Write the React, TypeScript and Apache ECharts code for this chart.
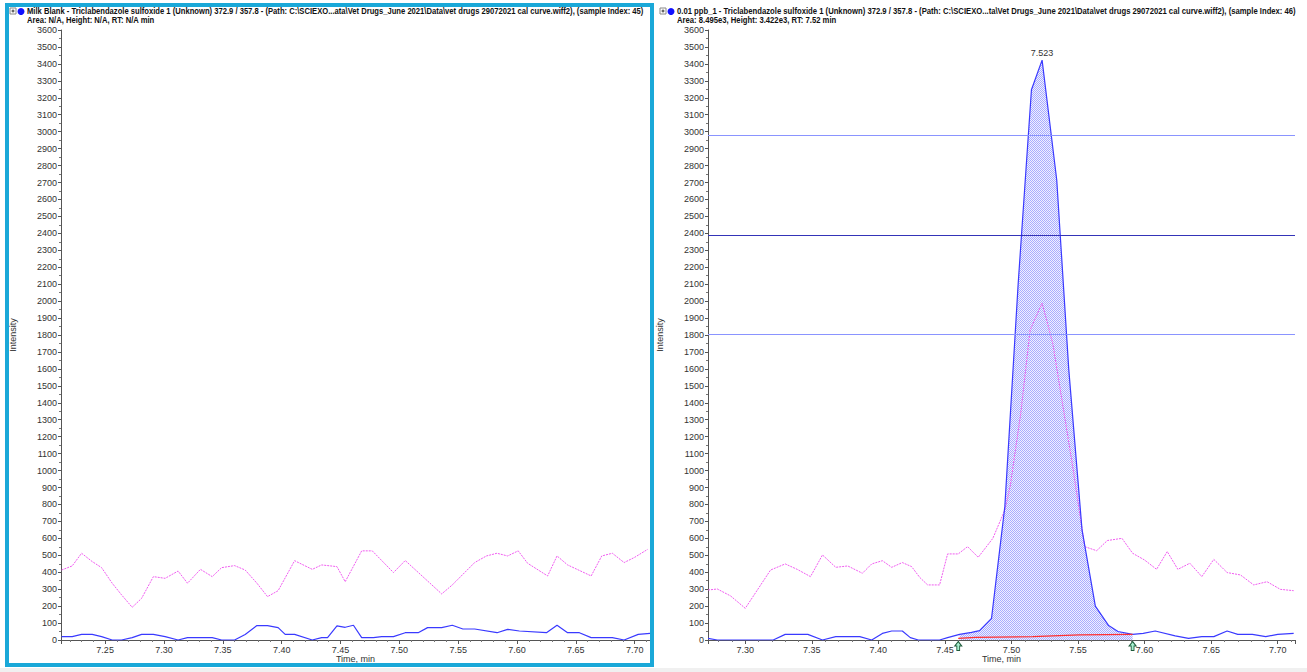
import React, { useEffect, useRef } from 'react';
import * as echarts from 'echarts';

// ---------- data (time in min, intensity in cps) ----------
const yMax = 3600;
const yStep = 100;
const leftRange = [7.2125, 7.713];
const rightRange = [7.272, 7.713];

const leftMagenta: [number, number][] = [
  [7.213, 413], [7.222, 437], [7.230, 512], [7.239, 463], [7.247, 427], [7.256, 335],
  [7.264, 266], [7.273, 193], [7.281, 246], [7.291, 374], [7.301, 364], [7.312, 407],
  [7.320, 335], [7.331, 417], [7.341, 374], [7.349, 427], [7.360, 439], [7.369, 413],
  [7.379, 335], [7.388, 256], [7.397, 291], [7.411, 468], [7.426, 417], [7.434, 443],
  [7.447, 433], [7.454, 344], [7.468, 526], [7.477, 526], [7.495, 398], [7.505, 469],
  [7.536, 272], [7.545, 325], [7.564, 457], [7.574, 496], [7.583, 512], [7.592, 496],
  [7.601, 526], [7.609, 453], [7.626, 378], [7.634, 496], [7.643, 443], [7.663, 378],
  [7.672, 496], [7.681, 512], [7.691, 457], [7.700, 488], [7.711, 535],
];

const leftBlue: [number, number][] = [
  [7.213, 20], [7.222, 20], [7.230, 33], [7.239, 33], [7.247, 20], [7.256, 0],
  [7.264, 0], [7.273, 14], [7.281, 33], [7.291, 33], [7.301, 20], [7.312, 0],
  [7.320, 14], [7.341, 14], [7.349, 0], [7.360, 0], [7.369, 33], [7.379, 85],
  [7.388, 85], [7.397, 73], [7.403, 33], [7.411, 33], [7.426, 0], [7.434, 14],
  [7.439, 14], [7.447, 83], [7.454, 75], [7.461, 87], [7.468, 14], [7.478, 14],
  [7.485, 20], [7.495, 20], [7.505, 43], [7.516, 43], [7.524, 73], [7.536, 73],
  [7.545, 87], [7.554, 65], [7.564, 65], [7.583, 43], [7.592, 63], [7.602, 53],
  [7.625, 43], [7.634, 87], [7.643, 43], [7.653, 43], [7.663, 14], [7.681, 14],
  [7.691, 0], [7.703, 33], [7.713, 39],
];

const rightMagenta: [number, number][] = [
  [7.272, 295], [7.279, 301], [7.289, 260], [7.300, 187], [7.319, 413], [7.330, 449],
  [7.339, 417], [7.349, 374], [7.358, 502], [7.368, 429], [7.377, 437], [7.388, 394],
  [7.395, 449], [7.403, 468], [7.410, 429], [7.418, 457], [7.425, 433], [7.431, 370],
  [7.437, 325], [7.446, 325], [7.452, 508], [7.460, 508], [7.467, 551], [7.475, 488],
  [7.486, 600], [7.495, 767], [7.499, 905], [7.507, 1340], [7.514, 1830], [7.523, 1988],
  [7.531, 1751], [7.546, 1023], [7.555, 551], [7.564, 527], [7.572, 587], [7.583, 600],
  [7.591, 512], [7.600, 472], [7.609, 417], [7.617, 522], [7.625, 417], [7.634, 453],
  [7.643, 374], [7.652, 476], [7.662, 398], [7.672, 384], [7.682, 325], [7.692, 344],
  [7.702, 299], [7.712, 291],
];

const rightBlue: [number, number][] = [
  [7.272, 10], [7.279, 0], [7.321, 0], [7.330, 33], [7.347, 33], [7.358, 0],
  [7.368, 20], [7.386, 20], [7.395, 0], [7.403, 39], [7.410, 53], [7.418, 53],
  [7.424, 14], [7.430, 0], [7.446, 0], [7.452, 14], [7.461, 33], [7.470, 45],
  [7.476, 55], [7.485, 128], [7.495, 787], [7.505, 2100], [7.515, 3247], [7.523, 3422],
  [7.534, 2715], [7.543, 1600], [7.553, 650], [7.563, 200], [7.573, 85], [7.580, 50],
  [7.591, 33], [7.599, 39], [7.608, 53], [7.623, 24], [7.633, 10], [7.643, 20],
  [7.652, 20], [7.662, 53], [7.670, 33], [7.681, 33], [7.691, 20], [7.700, 33],
  [7.712, 39],
];

const baseline: [number, number][] = [
  [7.460, 10], [7.473, 16], [7.516, 20], [7.551, 30], [7.591, 33],
];

const peakStart = 7.460;
const peakEnd = 7.591;
const peakRT = 7.523;
const peakHeight = 3422;
const thresholdLines = [2980, 2390, 1806];

const leftTitle1 = 'Milk Blank - Triclabendazole sulfoxide 1 (Unknown) 372.9 / 357.8 - (Path: C:\\SCIEXO...ata\\Vet Drugs_June 2021\\Data\\vet drugs 29072021 cal curve.wiff2), (sample Index: 45)';
const leftTitle2 = 'Area: N/A, Height: N/A, RT: N/A min';
const rightTitle1 = '0.01 ppb_1 - Triclabendazole sulfoxide 1 (Unknown) 372.9 / 357.8 - (Path: C:\\SCIEXO...ta\\Vet Drugs_June 2021\\Data\\vet drugs 29072021 cal curve.wiff2), (sample Index: 46)';
const rightTitle2 = 'Area: 8.495e3, Height: 3.422e3, RT: 7.52 min';

// ---------- styling ----------
const AXIS_FONT = '"Liberation Sans", Arial, sans-serif';
const TITLE_FONT_CSS = 'bold 9px "Liberation Sans", Arial, sans-serif';
const MAGENTA = '#f05cf0';
const BLUE = '#3a3aff';

function makePattern(): HTMLCanvasElement {
  const c = document.createElement('canvas');
  c.width = 2;
  c.height = 2;
  const ctx = c.getContext('2d')!;
  ctx.fillStyle = '#f0f0ff';
  ctx.fillRect(0, 0, 2, 2);
  ctx.fillStyle = '#a8acff';
  ctx.fillRect(0, 0, 1, 1);
  ctx.fillRect(1, 1, 1, 1);
  return c;
}

function measure(text: string): number {
  const ctx = document.createElement('canvas').getContext('2d')!;
  ctx.font = TITLE_FONT_CSS;
  return ctx.measureText(text).width;
}

function xAxisCfg(gridIndex: number, range: number[]) {
  return {
    type: 'value',
    gridIndex,
    min: range[0],
    max: range[1],
    splitNumber: 10,
    name: 'Time, min',
    nameLocation: 'middle',
    nameGap: 14,
    nameMoveOverlap: false,
    nameTextStyle: { fontSize: 9, color: '#333', fontFamily: AXIS_FONT },
    axisLine: { lineStyle: { color: '#555', width: 1 } },
    axisTick: { show: true, length: 4, lineStyle: { color: '#555' } },
    minorTick: { show: true, splitNumber: 5, length: 2, lineStyle: { color: '#777' } },
    axisLabel: {
      fontSize: 9, color: '#333', fontFamily: AXIS_FONT, margin: 5,
      showMinLabel: false, showMaxLabel: false,
      formatter: (v: number) => v.toFixed(2),
    },
    splitLine: { show: false },
  };
}

function yAxisCfg(gridIndex: number) {
  return {
    type: 'value',
    gridIndex,
    min: 0,
    max: yMax,
    interval: yStep,
    name: 'Intensity',
    nameLocation: 'middle',
    nameGap: 44,
    nameMoveOverlap: false,
    nameTextStyle: { fontSize: 9, color: '#333', fontFamily: AXIS_FONT },
    axisLine: { show: true, lineStyle: { color: '#555', width: 1 } },
    axisTick: { show: true, length: 3, lineStyle: { color: '#555' } },
    minorTick: { show: true, splitNumber: 2, length: 2, lineStyle: { color: '#777' } },
    axisLabel: {
      fontSize: 9, color: '#333', fontFamily: AXIS_FONT, margin: 4, interval: 0,
      formatter: (v: number) => String(v),
    },
    splitLine: { show: false },
  };
}

function header(x: number, l1: string, l2: string, targetWidth: number) {
  const s = targetWidth / measure(l1);
  return [
    { type: 'rect', shape: { x: x, y: 8, width: 6, height: 6 }, style: { fill: '#fff', stroke: '#888', lineWidth: 1 } },
    { type: 'line', shape: { x1: x + 1.5, y1: 11, x2: x + 4.5, y2: 11 }, style: { stroke: '#333', lineWidth: 1 } },
    { type: 'line', shape: { x1: x + 3, y1: 9.5, x2: x + 3, y2: 12.5 }, style: { stroke: '#333', lineWidth: 1 } },
    { type: 'circle', shape: { cx: x + 11, cy: 11.5, r: 3.5 }, style: { fill: '#1010ff' } },
    {
      type: 'text', x: x + 17, y: 6, scaleX: s,
      style: { text: l1, fill: '#111', font: TITLE_FONT_CSS },
    },
    {
      type: 'text', x: x + 17, y: 15, scaleX: s,
      style: { text: l2, fill: '#111', font: TITLE_FONT_CSS },
    },
  ];
}

export default function App() {
  const ref = useRef<HTMLDivElement>(null);

  useEffect(() => {
    document.body.style.margin = '0';
    const chart = echarts.init(ref.current!, null, { renderer: 'svg' });

    const fillData = rightBlue.filter(([t]) => t >= peakStart && t <= peakEnd);

    const option: any = {
      animation: false,
      backgroundColor: '#ffffff',
      grid: [
        { left: 61, top: 30, width: 589, height: 610 },
        { left: 708, top: 30, width: 587, height: 610 },
      ],
      xAxis: [xAxisCfg(0, leftRange), xAxisCfg(1, rightRange)],
      yAxis: [yAxisCfg(0), yAxisCfg(1)],
      graphic: [
        { type: 'rect', shape: { x: 0, y: 668, width: 1307, height: 4 }, style: { fill: '#f0f0f0' }, z: 0 },
        { type: 'rect', shape: { x: 7, y: 5, width: 645, height: 660 }, style: { fill: 'none', stroke: '#1aa8d8', lineWidth: 4 }, z: 10 },
        ...header(10, leftTitle1, leftTitle2, 618),
        ...header(660, rightTitle1, rightTitle2, 620),
      ],
      series: [
        {
          type: 'line', xAxisIndex: 0, yAxisIndex: 0, data: leftMagenta,
          symbol: 'none', lineStyle: { color: MAGENTA, width: 1, type: [2, 1] }, z: 2,
        },
        {
          type: 'line', xAxisIndex: 0, yAxisIndex: 0, data: leftBlue,
          symbol: 'none', lineStyle: { color: BLUE, width: 1.2 }, z: 3,
        },
        {
          type: 'line', xAxisIndex: 1, yAxisIndex: 1, data: fillData,
          symbol: 'none', lineStyle: { width: 0, opacity: 0 },
          areaStyle: { color: { image: makePattern(), repeat: 'repeat' }, opacity: 1 }, z: 1,
        },
        {
          type: 'line', xAxisIndex: 1, yAxisIndex: 1, data: rightMagenta,
          symbol: 'none', lineStyle: { color: MAGENTA, width: 1, type: [2, 1] }, z: 2,
        },
        {
          type: 'line', xAxisIndex: 1, yAxisIndex: 1, data: rightBlue,
          symbol: 'none', lineStyle: { color: BLUE, width: 1.2 }, z: 3,
          markLine: {
            silent: true, symbol: 'none', label: { show: false },
            data: thresholdLines.map((v, i) => ({
              yAxis: v,
              lineStyle: { color: i === 1 ? '#3434b8' : '#8a94ff', width: 1, type: 'solid' },
            })),
          },
          markPoint: {
            data: [{
              coord: [peakRT, peakHeight], symbol: 'circle', symbolSize: 2,
              itemStyle: { color: 'rgba(0,0,0,0)' },
              label: {
                show: true, position: 'top', distance: 2, formatter: peakRT.toFixed(3),
                fontSize: 9, color: '#333', fontFamily: AXIS_FONT,
              },
            }],
          },
        },
        {
          type: 'line', xAxisIndex: 1, yAxisIndex: 1, data: baseline,
          symbol: 'none', lineStyle: { color: '#ff3030', width: 1.2 }, z: 4,
          markPoint: {
            symbol: 'path://M5,0 L10,5 L7,5 L7,10 L3,10 L3,5 L0,5 Z',
            symbolSize: [7, 9],
            symbolOffset: [0, 6],
            itemStyle: { color: '#a8f0d0', borderColor: '#1e5a3a', borderWidth: 1 },
            label: { show: false },
            data: [{ coord: [peakStart, 0] }, { coord: [peakEnd, 0] }],
          },
        },
      ],
    };

    chart.setOption(option);
    return () => chart.dispose();
  }, []);

  return (
    <div
      ref={ref}
      style={{ position: 'absolute', left: 0, top: 0, width: 1307, height: 672, background: '#fff' }}
    />
  );
}
